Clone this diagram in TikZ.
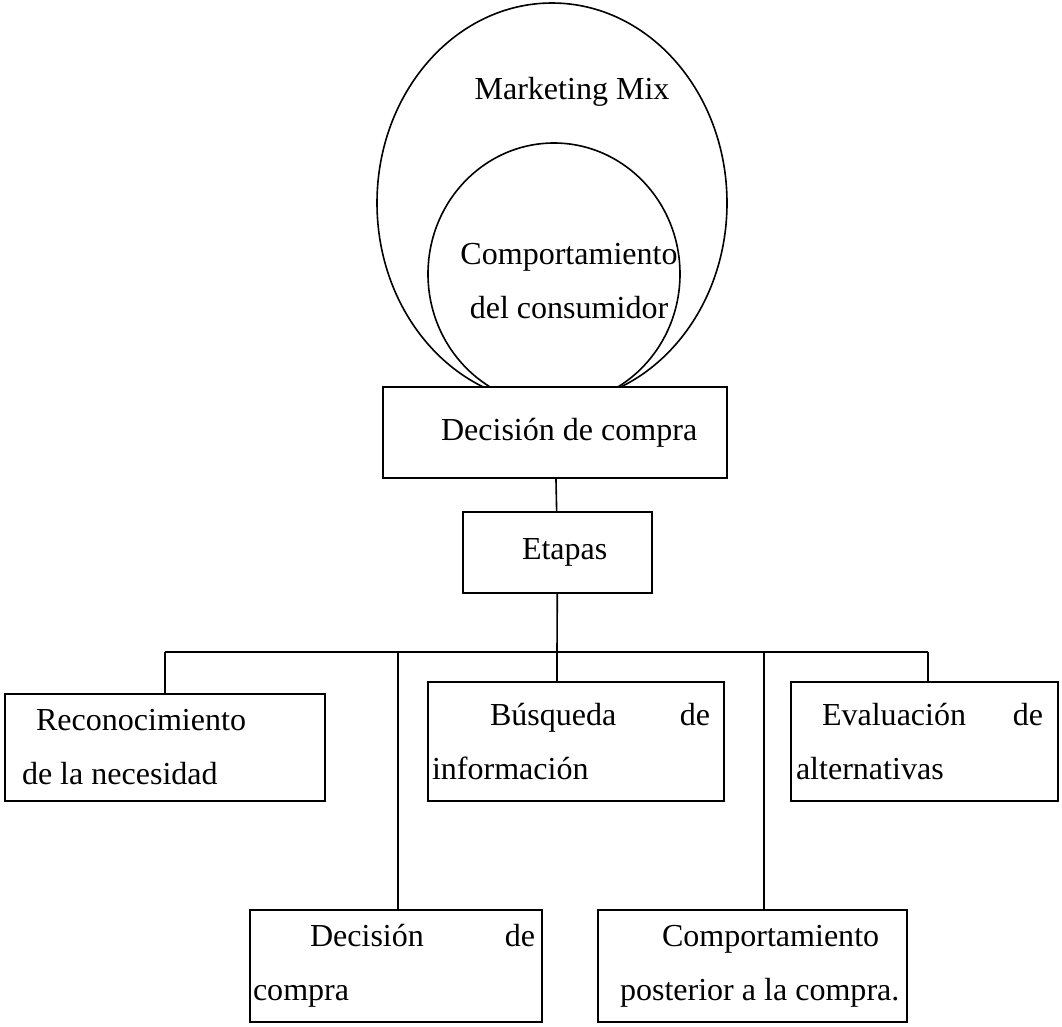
\documentclass[tikz,border=0pt]{standalone}
\usepackage{fontspec}
\setmainfont{Liberation Serif}
\usetikzlibrary{shapes.geometric}
\newdimen\px \px=0.3745pt

\begin{document}
\begin{tikzpicture}[x=\px, y=-\px, line width=0.6pt,
        every node/.append style={font=\fontsize{12}{20.2}\selectfont},
        ovalo/.style={ellipse, draw=black, inner sep=0pt},
        caja/.style={rectangle, draw=black, fill=white, inner sep=0pt, align=flush left}]
        \useasboundingbox (0,0) rectangle (1062,1026);
        \node[ovalo, minimum width=350\px, minimum height=400\px] (mix) at (552,203) {};
        \node[ovalo, minimum width=252\px, minimum height=262\px] (consumidor) at (554,274) {};
        \node (tmix) at (572,92) {Marketing Mix};
        \node[align=center] (tconsumidor) at (569,281) {Comportamiento\\del consumidor};
        \node[caja, text width=344\px, minimum height=91\px] (decision) at (555,432.5) {\hspace*{58\px}Decisión de compra};
        \node[caja, text width=189\px, minimum height=81\px] (etapas) at (557.5,552.5) {\hspace*{59\px}Etapas};
        \node[caja, text width=320\px, minimum height=107\px] (paso1) at (165,747.5) {\hspace*{31\px}Reconocimiento\\\hspace*{17\px}de la necesidad};
        \node[caja, text width=296\px, minimum height=119\px] (paso2) at (576,741.5) {\hspace*{62\px}Búsqueda\hfill de\kern14\px\\\hspace*{4\px}información};
        \node[caja, text width=267\px, minimum height=119\px] (paso3) at (924.5,741.5) {\hspace*{31\px}Evaluación\hfill de\kern15\px\\\hspace*{5\px}alternativas};
        \node[caja, text width=292\px, minimum height=112\px] (paso4) at (396,966) {\hspace*{60\px}Decisión\hfill de\kern7\px\\\hspace*{3\px}compra};
        \node[caja, text width=309\px, minimum height=112\px] (paso5) at (752.5,966) {\hspace*{64\px}Comportamiento\\\hspace*{22\px}\mbox{posterior a la compra.}};
        \coordinate (bar) at (557,652);
        \coordinate (izq) at (165,652);
        \coordinate (der) at (928,652);
        \coordinate (b4) at (398,652);
        \coordinate (b5) at (764,652);
        \draw[-] (decision) -- (etapas);
        \draw[-] (etapas) -- (bar);
        \draw[-] (izq) -- (der);
        \draw[-] (izq) -- (paso1);
        \draw[-] (bar) -- (bar |- paso2.north);
        \draw[-] (der) -- (der |- paso3.north);
        \draw[-] (b4) -- (b4 |- paso4.north);
        \draw[-] (b5) -- (b5 |- paso5.north);
    \end{tikzpicture}
\end{document}
